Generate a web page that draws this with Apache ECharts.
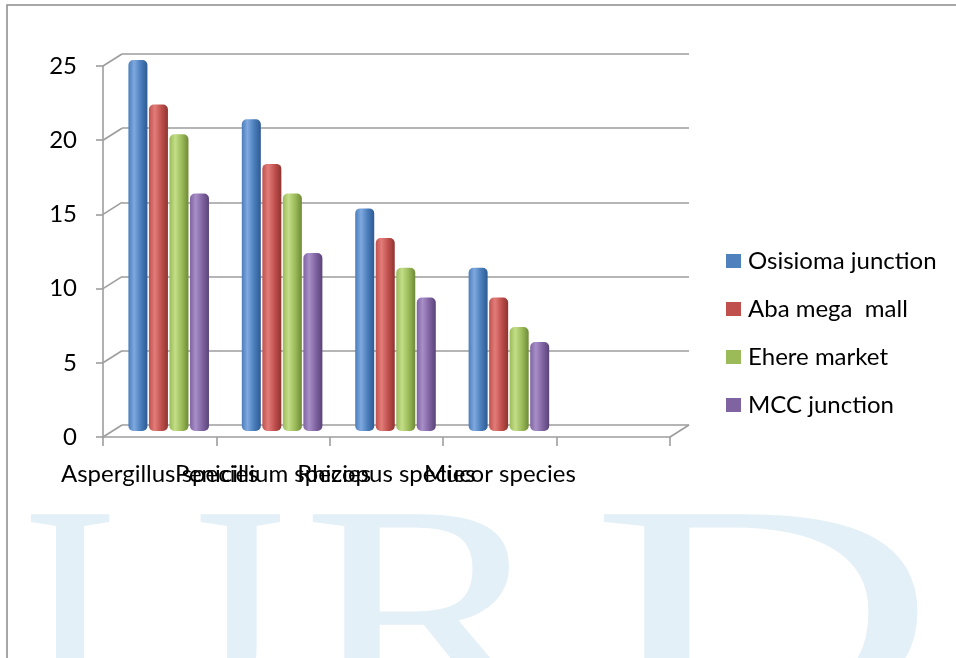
<!DOCTYPE html>
<html>
<head>
<meta charset="utf-8">
<script src="https://cdn.jsdelivr.net/npm/echarts@6/dist/echarts.min.js"></script>
<style>
html, body { margin: 0; padding: 0; background: #fff; }
#chart { width: 956px; height: 658px; }
</style>
</head>
<body>
<div id="chart"></div>
<script>
// data
const categories = ["Aspergillus species", "Penicillium species", "Rhizopus species", "Mucor species", ""];
const seriesNames = ["Osisioma junction", "Aba mega  mall", "Ehere market", "MCC junction"];
const osisioma = [25, 21, 15, 11];
const abaMegaMall = [22, 18, 13, 9];
const ehereMarket = [20, 16, 11, 7];
const mccJunction = [16, 12, 9, 6];
const yTicks = [0, 5, 10, 15, 20, 25];

const FONT = "Lato";
const GRID_W = 567, GRID_H = 371;
const front = { left: 103, top: 66 };
const mid = { left: 112, top: 60 };
const back = { left: 122, top: 54 };
const DX = back.left - front.left, DY = back.top - front.top;
const wallColor = "#9d9d9d";

// flat colours for legend, shaded ones for the cylinders
const palette = [
	{ base: "#4a7ebb", light: "#7fa9df", dark: "#2d5a92", flat: "#4f81bd" },
	{ base: "#c0504d", light: "#e27d7a", dark: "#8e3431", flat: "#c0504d" },
	{ base: "#9bbb59", light: "#c3de88", dark: "#6e8a37", flat: "#9bbb59" },
	{ base: "#8064a2", light: "#a88fc8", dark: "#5a4378", flat: "#8064a2" }
];

function cylinder(c) {
	return new echarts.graphic.LinearGradient(0, 0, 1, 0, [
		{ offset: 0, color: c.base },
		{ offset: 0.3, color: c.light },
		{ offset: 0.65, color: c.base },
		{ offset: 1, color: c.dark }
	]);
}

const values = [osisioma, abaMegaMall, ehereMarket, mccJunction];

const barSeries = values.map((data, i) => ({
	name: seriesNames[i],
	type: "bar",
	xAxisIndex: 1,
	yAxisIndex: 1,
	barWidth: 19,
	barGap: "8%",
	data,
	itemStyle: { color: cylinder(palette[i]), borderRadius: 5 },
	emphasis: { disabled: true },
	z: 3
}));

// little diagonals of the side wall and floor
const wallSeries = {
	type: "custom",
	xAxisIndex: 2,
	yAxisIndex: 2,
	silent: true,
	data: yTicks.map(v => [0, v]),
	renderItem(params, api) {
		const cs = params.coordSys;
		const y = api.coord([0, api.value(1)])[1];
		const style = { stroke: wallColor, lineWidth: 1.6 };
		const children = [{
			type: "line",
			shape: { x1: cs.x, y1: y, x2: cs.x + DX, y2: y + DY },
			style
		}];
		if (api.value(1) === 0) {
			children.push({
				type: "line",
				shape: { x1: cs.x + cs.width, y1: y, x2: cs.x + cs.width + DX, y2: y + DY },
				style
			});
		}
		return { type: "group", children };
	},
	z: 1
};

// watermark behind the chart
const letters = [
	{ t: "I", x: 20, sx: 1.0 },
	{ t: "J", x: 164, sx: 1.05 },
	{ t: "R", x: 302, sx: 1.25 },
	{ t: "D", x: 590, sx: 1.6 }
];

const chart = echarts.init(document.getElementById("chart"), null, { renderer: "canvas" });

chart.setOption({
	animation: false,
	backgroundColor: "#fff",
	textStyle: { fontFamily: FONT },
	graphic: [
		{
			type: "rect",
			z: -5,
			silent: true,
			shape: { x: 7, y: 5, width: 1200, height: 1200 },
			style: { fill: null, stroke: "#8a8a8a", lineWidth: 1.5 }
		}
	].concat(letters.map(l => ({
		type: "text",
		z: -10,
		silent: true,
		x: l.x,
		y: 482,
		scaleX: l.sx,
		style: {
			text: l.t,
			font: "300px 'Liberation Serif'",
			fill: "#e4f0f8",
			verticalAlign: "top"
		}
	}))),
	legend: {
		orient: "vertical",
		left: 726,
		top: 249,
		padding: 0,
		itemWidth: 15,
		itemHeight: 14,
		itemGap: 24,
		icon: "rect",
		selectedMode: false,
		textStyle: { fontFamily: FONT, fontSize: 24, color: "#000", padding: [0, 0, 0, 2] },
		data: seriesNames.map((n, i) => ({ name: n, itemStyle: { color: palette[i].flat } }))
	},
	grid: [
		{ left: back.left, top: back.top, width: GRID_W, height: GRID_H },
		{ left: mid.left, top: mid.top, width: GRID_W, height: GRID_H },
		{ left: front.left, top: front.top, width: GRID_W, height: GRID_H }
	],
	xAxis: [
		{ gridIndex: 0, type: "category", data: categories, show: false },
		{ gridIndex: 1, type: "category", data: categories, show: false },
		{
			gridIndex: 2,
			type: "category",
			data: categories,
			axisLine: { show: true, lineStyle: { color: wallColor, width: 1.6 } },
			axisTick: { show: true, interval: 0, length: 9, lineStyle: { color: wallColor, width: 1.6 } },
			axisLabel: { interval: 0, margin: 25, color: "#000", fontSize: 24, fontFamily: FONT }
		}
	],
	yAxis: [
		{
			gridIndex: 0, type: "value", min: 0, max: 25, interval: 5,
			axisLine: { show: false }, axisTick: { show: false }, axisLabel: { show: false },
			splitLine: { lineStyle: { color: wallColor, width: 1.6 } }
		},
		{ gridIndex: 1, type: "value", min: 0, max: 25, interval: 5, show: false, splitLine: { show: false } },
		{
			gridIndex: 2, type: "value", min: 0, max: 25, interval: 5,
			axisLine: { show: true, lineStyle: { color: wallColor, width: 1.6 } },
			axisTick: { show: true, length: 7, lineStyle: { color: wallColor, width: 1.6 } },
			axisLabel: { margin: 26, color: "#000", fontSize: 24, fontFamily: FONT },
			splitLine: { show: false }
		}
	],
	series: barSeries.concat([wallSeries])
});
</script>
</body>
</html>
